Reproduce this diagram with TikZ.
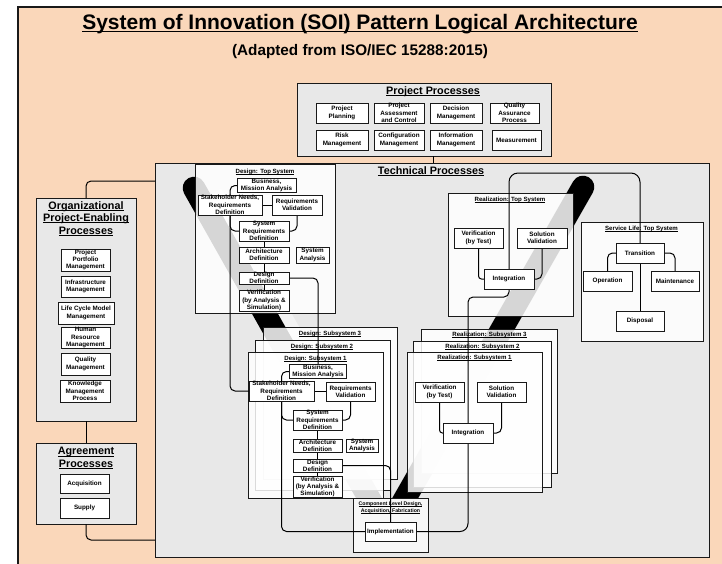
\documentclass[tikz,border=0pt]{standalone}
\usepackage{fontspec}
\setmainfont{Liberation Sans}
\usetikzlibrary{calc}
\definecolor{peach}{RGB}{250,215,186}
\definecolor{panelgray}{RGB}{232,232,232}
\definecolor{boxline}{RGB}{25,25,25}
\definecolor{bandshade}{RGB}{243,243,243}
\definecolor{compfill}{RGB}{247,247,247}
\newcommand\ulbox[1]{\setbox0=\hbox{#1}\rlap{\rule[-0.16em]{\wd0}{0.075em}}\box0}
\newcommand\procfont{\bfseries\fontsize{6.3}{7.3}\selectfont}
\newcommand\secfont{\bfseries\fontsize{10.8}{12.5}\selectfont}
\newcommand\contfont{\bfseries\fontsize{6.1}{7}\selectfont}
\pgfdeclarelayer{bglayer}
\pgfdeclarelayer{bandlayer}
\pgfdeclarelayer{contlayer}
\pgfdeclarelayer{wirelayer}
\pgfsetlayers{bglayer,bandlayer,contlayer,wirelayer,main}
\begin{document}
\begin{tikzpicture}[x=1pt,y=-1pt,
  panel/.style={draw=boxline, fill=panelgray, line width=1pt, inner sep=0pt, outer sep=0pt},
  cont/.style={draw=boxline, fill=white, fill opacity=0.84, line width=0.9pt, inner sep=0pt, outer sep=0pt},
  proc/.style 2 args={draw=boxline, fill=white, line width=0.9pt, inner sep=0pt, outer sep=0pt,
    align=center, font=\procfont, minimum width=#1, minimum height=#2},
  sect/.style={font=\secfont, align=center, inner sep=0pt},
  conttitle/.style={font=\contfont, inner sep=0pt, anchor=base},
  conn/.style={draw=black, line width=1pt, rounded corners=5pt},
]
\useasboundingbox (0,0) rectangle (722,563);

% ---------- frame, process groups, titles ----------
\begin{pgfonlayer}{bglayer}
\begin{scope}
  \clip (0,0) rectangle (722,563);
  \filldraw[fill=peach, draw=boxline, line width=1.2pt] (18,7) rectangle (760,600);
\end{scope}
\node[panel, minimum width=254pt, minimum height=73pt] (projP) at (424,119.5) {};
\node[panel, minimum width=554pt, minimum height=394pt] (techP) at (432,360) {};
\node[panel, minimum width=100pt, minimum height=223pt] (orgP) at (86,309.5) {};
\node[panel, minimum width=100pt, minimum height=81pt] (agrP) at (86,483.5) {};

\node[anchor=base, inner sep=0pt, font=\bfseries\fontsize{21}{25}\selectfont] (mainTitle) at (360,29)
  {\ulbox{System of Innovation (SOI) Pattern Logical Architecture}};
\node[anchor=base, inner sep=0pt, font=\bfseries\fontsize{15.3}{18}\selectfont] (subTitle) at (360,55)
  {(Adapted from ISO/IEC 15288:2015)};
\node[sect, anchor=base] (projTitle) at (433,94) {\ulbox{Project Processes}};
\node[sect, anchor=base] (techTitle) at (431,174) {\ulbox{Technical Processes}};
\node[sect, anchor=north] (orgTitle) at (86,201)
  {\ulbox{Organizational}\\\ulbox{Project-Enabling}\\\ulbox{Processes}};
\node[sect, anchor=north] (agrTitle) at (86,447) {\ulbox{Agreement}\\\ulbox{Processes}};

\coordinate (orgLink) at (155,181);
\coordinate (agrLink) at (155,540);
\draw[conn] (orgP.north) |- (orgLink);
\draw[conn] (orgP.south) -- (agrP.north);
\draw[conn] (agrP.south) |- (agrLink);
\draw[conn] (projP.south -| projTitle.south) -- (techP.north -| projTitle.south);
\end{pgfonlayer}

% ---------- the Vee ----------
\begin{pgfonlayer}{bandlayer}
\draw[bandshade, line width=12pt] (216,191.5) -- (362.5,451.5);
\draw[black, line width=22.6pt, line cap=round, line join=round] (194,188) -- (387,530) -- (583,187);
\end{pgfonlayer}

% ---------- system / subsystem frames ----------
\begin{pgfonlayer}{contlayer}
\node[cont, minimum width=140pt, minimum height=149pt] (dTop) at (265,238.5) {};
\node[conttitle] (dTopT) at (265,173.5) {\ulbox{Design: Top System}};
\node[cont, minimum width=134pt, minimum height=152pt] (dS3) at (330,403) {};
\node[conttitle] (dS3T) at (330,335.5) {\ulbox{Design: Subsystem 3}};
\node[cont, minimum width=135pt, minimum height=150pt] (dS2) at (322.5,415) {};
\node[conttitle] (dS2T) at (322,348.5) {\ulbox{Design: Subsystem 2}};
\node[cont, minimum width=135pt, minimum height=146pt] (dS1) at (315.5,425) {};
\node[conttitle] (dS1T) at (315.5,360) {\ulbox{Design: Subsystem 1}};

\node[cont, minimum width=125pt, minimum height=123pt] (rTop) at (510.5,254.5) {};
\node[conttitle] (rTopT) at (510,201.5) {\ulbox{Realization: Top System}};
\node[cont, minimum width=136pt, minimum height=144pt] (rS3) at (489,401) {};
\node[conttitle] (rS3T) at (489.5,336.5) {\ulbox{Realization: Subsystem 3}};
\node[cont, minimum width=138pt, minimum height=146pt] (rS2) at (482,414) {};
\node[conttitle] (rS2T) at (482.5,348.5) {\ulbox{Realization: Subsystem 2}};
\node[cont, minimum width=135pt, minimum height=140pt] (rS1) at (474.5,422) {};
\node[conttitle] (rS1T) at (474.5,359.5) {\ulbox{Realization: Subsystem 1}};

\node[cont, minimum width=122pt, minimum height=119pt] (svc) at (642,281.5) {};
\node[conttitle] (svcT) at (641.5,230.5) {\ulbox{Service Life: Top System}};

\node[cont, fill=compfill, fill opacity=1, minimum width=75pt, minimum height=54pt] (comp) at (390.5,525) {};
\node[font=\bfseries\fontsize{5.2}{7}\selectfont, align=center, inner sep=0pt] (compT) at (390.5,507.5)
  {\ulbox{Component Level Design,}\\\ulbox{Acquisition, Fabrication}};
\end{pgfonlayer}

% ---------- process boxes ----------
\node[proc={52pt}{20pt}] (pPlan) at (342,113) {Project\\Planning};
\node[proc={50pt}{20pt}] (pAssess) at (399,113) {Project\\Assessment\\and Control};
\node[proc={52pt}{20pt}] (pDec) at (456,113) {Decision\\Management};
\node[proc={49pt}{20pt}] (pQA) at (514.5,113) {Quality\\Assurance\\Process};
\node[proc={52pt}{20pt}] (pRisk) at (342,140) {Risk\\Management};
\node[proc={50pt}{20pt}] (pConf) at (399,140) {Configuration\\Management};
\node[proc={52pt}{20pt}] (pInfo) at (456,140) {Information\\Management};
\node[proc={49pt}{20pt}] (pMeas) at (516.5,140) {Measurement};

\node[proc={49pt}{22pt}] (oPort) at (85.5,260) {Project\\Portfolio\\Management};
\node[proc={49pt}{21pt}] (oInfra) at (85.5,286.5) {Infrastructure\\Management};
\node[proc={56pt}{22pt}] (oLCM) at (86,313) {Life Cycle Model\\Management};
\node[proc={49pt}{21pt}] (oHR) at (85.5,337.5) {Human\\Resource\\Management};
\node[proc={49pt}{22pt}] (oQual) at (85.5,364) {Quality\\Management};
\node[proc={50pt}{22pt}] (oKnow) at (85,391) {Knowledge\\Management\\Process};
\node[proc={49pt}{19pt}] (aAcq) at (84.5,483.5) {Acquisition};
\node[proc={49pt}{20pt}] (aSup) at (84.5,508) {Supply};

\node[proc={59pt}{13pt}] (dBus) at (266.5,185.5) {Business,\\Mission Analysis};
\node[proc={64pt}{20pt}] (dStk) at (230,205) {Stakeholder Needs,\\Requirements\\Definition};
\node[proc={50pt}{20pt}] (dRV) at (297,205) {Requirements\\Validation};
\node[proc={50pt}{20pt}] (dSR) at (264,231) {System\\Requirements\\Definition};
\node[proc={50pt}{16pt}] (dAD) at (264,255) {Architecture\\Definition};
\node[proc={33pt}{16pt}] (dSA) at (312.5,255) {System\\Analysis};
\node[proc={50pt}{12pt}] (dDD) at (264,278) {Design\\Definition};
\node[proc={50pt}{21pt}] (dVer) at (264,300.5) {Verification\\(by Analysis \&\\Simulation)};

\node[proc={57pt}{13pt}] (sBus) at (318,371.5) {Business,\\Mission Analysis};
\node[proc={65pt}{20pt}] (sStk) at (281.5,391) {Stakeholder Needs,\\Requirements\\Definition};
\node[proc={49pt}{19pt}] (sRV) at (350.5,391.5) {Requirements\\Validation};
\node[proc={49pt}{20pt}] (sSR) at (317.5,420) {System\\Requirements\\Definition};
\node[proc={49pt}{13pt}] (sAD) at (317.5,445.5) {Architecture\\Definition};
\node[proc={32pt}{13pt}] (sSA) at (362,445.5) {System\\Analysis};
\node[proc={49pt}{13pt}] (sDD) at (317.5,465.5) {Design\\Definition};
\node[proc={49pt}{20pt}] (sVer) at (317.5,487) {Verification\\(by Analysis \&\\Simulation)};

\node[proc={49pt}{20pt}] (rVer) at (478.5,238) {Verification\\(by Test)};
\node[proc={50pt}{20pt}] (rSV) at (542,238) {Solution\\Validation};
\node[proc={50pt}{20pt}] (rInt) at (509,279) {Integration};
\node[proc={49pt}{20pt}] (rsVer) at (439.5,392) {Verification\\(by Test)};
\node[proc={49pt}{20pt}] (rsSV) at (501.5,392) {Solution\\Validation};
\node[proc={50pt}{20pt}] (rsInt) at (468,433) {Integration};

\node[proc={48pt}{20pt}] (slT) at (640,253) {Transition};
\node[proc={49pt}{20pt}] (slO) at (607.5,281) {Operation};
\node[proc={48pt}{20pt}] (slM) at (675,281) {Maintenance};
\node[proc={48pt}{20pt}] (slD) at (640,321) {Disposal};

\node[proc={51pt}{19pt}] (impl) at (390.5,531.5) {Implementation};

% ---------- connectors ----------
\begin{pgfonlayer}{wirelayer}
% design, top system
\draw[conn] (dBus.west) -| (dStk.center) |- (sStk.west);
\draw[conn] (dStk.south) |- (dSR.west);
\draw[conn] (dStk.east) -- (dRV.west);
\draw[conn] (dRV.south) |- (dSR.east);
\draw[conn] (dSR) -- (dAD);
\draw[conn] (dAD) -- (dDD);
\draw[conn] (dDD) -- (dVer);
\draw[conn] (dDD.east) -| (sBus.north);
% design, subsystem 1
\draw[conn] (sBus.west) -| (sStk.center) |- (impl.west);
\draw[conn] (sStk.south) |- (sSR.west);
\draw[conn] (sStk.east) -- (sStk.east -| sRV.west);
\draw[conn] (sRV.south) |- (sSR.east);
\draw[conn] (sSR) -- (sAD);
\draw[conn] (sAD) -- (sDD);
\draw[conn] (sDD) -- (sVer);
\draw[conn] (sDD.east) -| (impl.north);
% realization, top system
\draw[conn, rounded corners=3pt] (rVer.south) |- (rInt.west);
\draw[conn] (rSV.south) |- (rInt.east);
\coordinate (svcRun) at (640,173);
\draw[conn, rounded corners=9pt] (rInt.north) |- (svcRun) -- (slT.north);
\draw[conn] (rInt.south) -- ++(0,8) -| (rsInt.north);
% realization, subsystem 1
\draw[conn, rounded corners=3pt] (rsVer.south) |- (rsInt.west);
\draw[conn] (rsSV.south) |- (rsInt.east);
\draw[conn, rounded corners=8pt] (rsInt.south) |- (impl.east);
% service life
\draw[conn] (slT.west) -| (slO.north);
\draw[conn] (slT.east) -| (slM.north);
\draw[conn] (slT) -- (slD);
\end{pgfonlayer}
\end{tikzpicture}
\end{document}
